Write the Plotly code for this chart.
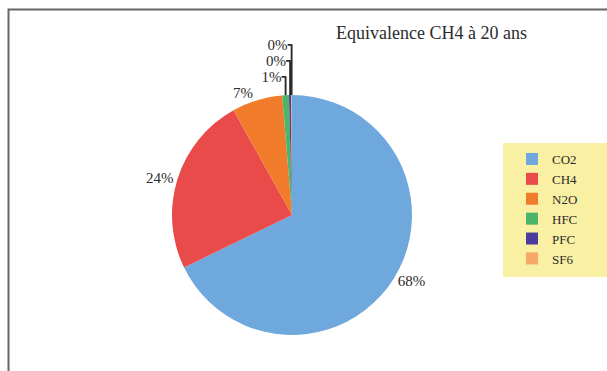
import plotly.graph_objects as go

labels = ["CO2", "CH4", "N2O", "HFC", "PFC", "SF6"]
values = [67.8, 24.1, 6.8, 0.9, 0.3, 0.1]
colors = ["#6fa8dc", "#e94a4a", "#f07b2b", "#4db56a", "#4a3d9c", "#f6a866"]
title_text = "Equivalence CH4 à 20 ans"

W, H = 607, 371
FONT = "Liberation Serif, Times New Roman, serif"

fig = go.Figure(go.Pie(
    labels=labels,
    values=values,
    sort=False,
    direction="clockwise",
    rotation=0,
    marker=dict(colors=colors, line=dict(width=0)),
    textposition="outside",
    texttemplate="%{percent:.0%}",
    textfont=dict(family=FONT, size=15, color="#2b2b2b"),
    domain=dict(x=[(292 - 120) / W, (292 + 120) / W],
                y=[(H - 335) / H, (H - 95) / H]),
    showlegend=True,
    hoverinfo="label+percent",
))

fig.update_layout(
    width=W, height=H,
    margin=dict(l=0, r=0, t=0, b=0),
    paper_bgcolor="white",
    font=dict(family=FONT, color="#2b2b2b"),
    legend=dict(
        x=512 / W, y=1 - 144 / H, xanchor="left", yanchor="top",
        bgcolor="rgba(0,0,0,0)",
        font=dict(family=FONT, size=13, color="#2b2b2b"),
        itemwidth=30,
        traceorder="normal",
        tracegroupgap=0,
    ),
    annotations=[dict(
        text=title_text, x=431 / W, y=1 - 33 / H, xref="paper", yref="paper",
        xanchor="center", yanchor="middle", showarrow=False,
        font=dict(family=FONT, size=18, color="#2b2b2b"),
    )],
    shapes=[
        dict(
            type="rect", xref="paper", yref="paper",
            x0=503 / W, x1=1.02, y0=1 - 277 / H, y1=1 - 143 / H,
            line=dict(width=0), fillcolor="#faf0a3", layer="below",
        ),
        dict(
            type="rect", xref="paper", yref="paper",
            x0=8.5 / W, x1=1.02, y0=-0.02, y1=1 - 9.5 / H,
            line=dict(color="#666666", width=2), fillcolor="rgba(0,0,0,0)",
            layer="above",
        ),
    ],
)

fig.write_html("out.html")
